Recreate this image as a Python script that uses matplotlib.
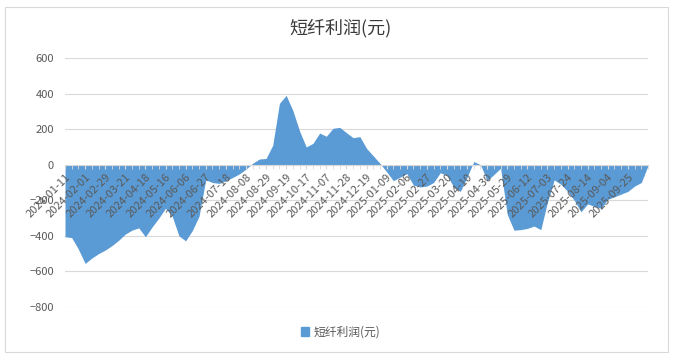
import numpy as np
import matplotlib
matplotlib.use("Agg")
import matplotlib.pyplot as plt
from matplotlib.patches import Patch, Rectangle

plt.rcParams['font.family'] = ['Noto Sans CJK SC', 'DejaVu Sans']

# tick labels (one every 3 weekly points)
tick_labels = ['2024-01-11', '2024-02-01', '2024-02-29', '2024-03-21', '2024-04-18',
               '2024-05-16', '2024-06-06', '2024-06-27', '2024-07-18', '2024-08-08',
               '2024-08-29', '2024-09-19', '2024-10-17', '2024-11-07', '2024-11-28',
               '2024-12-19', '2025-01-09', '2025-02-06', '2025-02-27', '2025-03-20',
               '2025-04-10', '2025-04-30', '2025-05-29', '2025-06-12', '2025-07-03',
               '2025-07-24', '2025-08-14', '2025-09-04', '2025-09-25']
label_step = 3

# short fiber profit (yuan), weekly
profit = [-405, -410, -475, -555, -525, -500, -480, -455, -425, -390,
          -368, -355, -405, -350, -300, -245, -290, -400, -428, -370,
          -290, -85, -100, -105, -90, -72, -52, -25, 8, 32,
          35, 110, 345, 390, 305, 190, 100, 120, 178, 160,
          205, 210, 180, 152, 158, 92, 50, 8, -40, -90,
          -70, -50, -115, -125, -120, -100, -45, -60, -125, -150,
          -70, 18, 0, -90, -55, -20, -280, -368, -365, -358,
          -345, -365, -210, -85, -110, -150, -200, -265, -220, -235,
          -245, -195, -180, -165, -150, -120, -100, -5]
y_ticks = [-800, -600, -400, -200, 0, 200, 400, 600]

blue = '#5B9BD5'
grey = '#595959'
grid = '#D9D9D9'

fig = plt.figure(figsize=(6.81, 3.61), dpi=100)
ax = fig.add_axes([65/681, 1-307/361, 583/681, 249/361])

x = np.arange(len(profit))
for yv in y_ticks:
    ax.axhline(yv, color=grid, linewidth=0.8, zorder=0)
ax.fill_between(x, 0, profit, color=blue, linewidth=0, zorder=1)

ax.set_xlim(0, len(profit)-1)
ax.set_ylim(-800, 600)
ax.set_yticks(y_ticks)

for s in ['top', 'right', 'left']:
    ax.spines[s].set_visible(False)
ax.spines['bottom'].set_position(('data', 0))
ax.spines['bottom'].set_color(grid)

major = x[::label_step][:len(tick_labels)]
ax.set_xticks(major)
ax.set_xticklabels(tick_labels, rotation=45, ha='right', va='top',
                   rotation_mode='anchor', fontsize=8, color=grey)
ax.set_xticks(x, minor=True)
ax.tick_params(axis='x', which='both', length=3, color=grid, direction='out', pad=2)
ax.tick_params(axis='y', length=0, labelsize=8, labelcolor=grey, pad=8)

fig.text(0.5, 1-28/361, '短纤利润(元)', ha='center', va='center',
         fontsize=13, color='#3a3a3a')

fig.legend(handles=[Patch(color=blue, label='短纤利润(元)')],
           loc='center', bbox_to_anchor=(0.5, 1-332/361), frameon=False,
           fontsize=8.5, handlelength=0.7, handleheight=0.7, handletextpad=0.4,
           labelcolor=grey)

fig.patches.append(Rectangle((5/681, 1-352/361), 663/681, 345/361,
                             transform=fig.transFigure, fill=False,
                             edgecolor=grid, linewidth=0.8))

fig.savefig('out.png', dpi=100)
